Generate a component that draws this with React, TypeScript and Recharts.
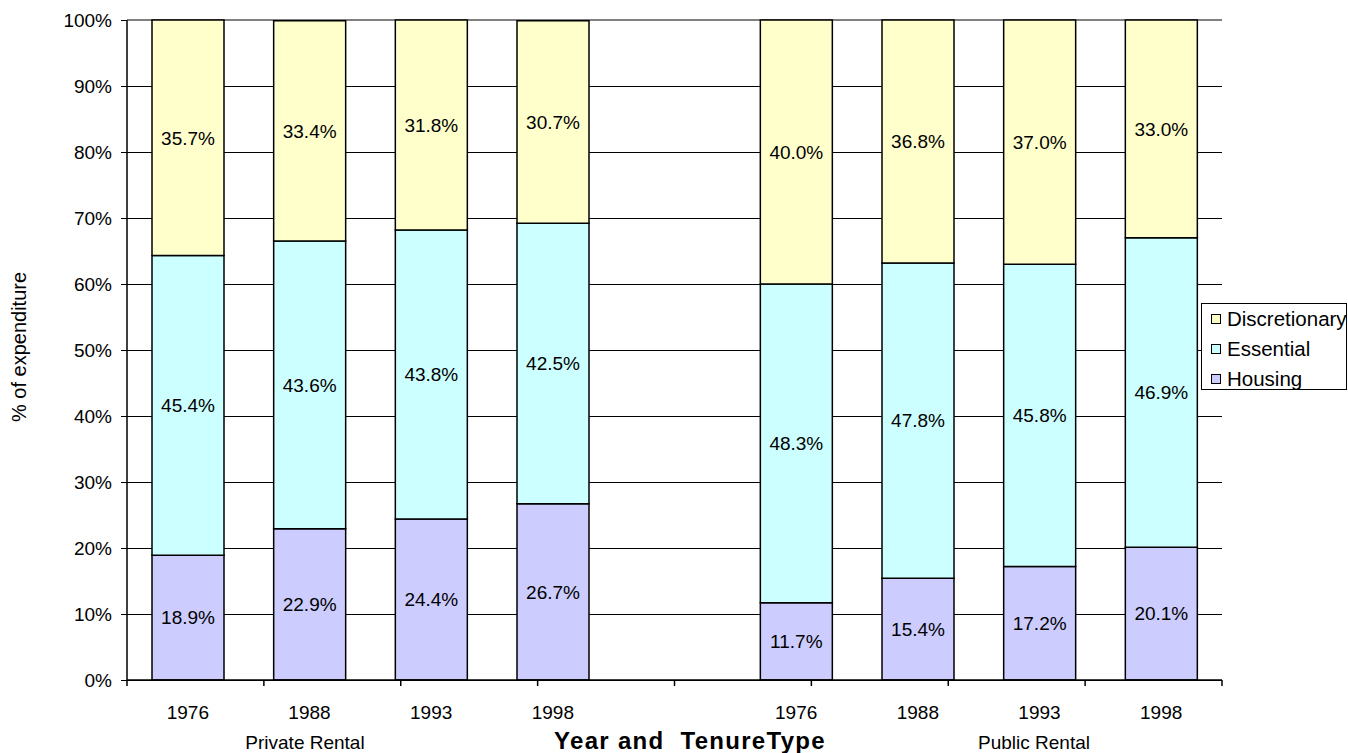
import React from 'react';
import {
  BarChart,
  Bar,
  XAxis,
  YAxis,
  CartesianGrid,
  Legend,
  LabelList,
} from 'recharts';

// categories: 4 private rental years, an empty spacer, 4 public rental years
const years = ['1976', '1988', '1993', '1998', '', '1976', '1988', '1993', '1998'];
const housing = [18.9, 22.9, 24.4, 26.7, null, 11.7, 15.4, 17.2, 20.1];
const essential = [45.4, 43.6, 43.8, 42.5, null, 48.3, 47.8, 45.8, 46.9];
const discretionary = [35.7, 33.4, 31.8, 30.7, null, 40.0, 36.8, 37.0, 33.0];
const yTicks = [0, 10, 20, 30, 40, 50, 60, 70, 80, 90, 100];
const boundaryTicks = [0, 1, 2, 3, 4, 5, 6, 7, 8, 9];

const SERIES = [
  { key: 'housing', name: 'Housing', color: '#CCCCFF' },
  { key: 'essential', name: 'Essential', color: '#CCFFFF' },
  { key: 'discretionary', name: 'Discretionary', color: '#FFFFCC' },
];

const FONT = '"Liberation Sans", Arial, sans-serif';

const data = years.map((year, i) => ({
  id: i,
  year,
  housing: housing[i],
  essential: essential[i],
  discretionary: discretionary[i],
}));

const fmt = (v: unknown) => (typeof v === 'number' ? `${v.toFixed(1)}%` : '');

// gridlines are black, except the top (100%) one which is grey
function gridLine(props: any) {
  const pts: number[] | undefined = props.horizontalPoints;
  const isTop = pts && pts.length ? props.y1 === Math.min(...pts) : props.index === yTicks.length - 1;
  return (
    <line
      key={props.key}
      x1={props.x1}
      y1={props.y1}
      x2={props.x2}
      y2={props.y2}
      stroke={isTop ? '#808080' : '#000'}
      strokeWidth={isTop ? 1.5 : 1}
      shapeRendering="crispEdges"
      fill="none"
    />
  );
}

function LegendBox() {
  const items = [...SERIES].reverse();
  return (
    <div
      style={{
        width: 144,
        height: 85,
        border: '1px solid #000',
        background: '#fff',
        fontFamily: FONT,
        fontSize: 20.5,
        color: '#000',
      }}
    >
      {items.map((it) => (
        <div key={it.key} style={{ height: 30, display: 'flex', alignItems: 'center', paddingLeft: 9 }}>
          <span
            style={{
              width: 8,
              height: 8,
              border: '1px solid #000',
              background: it.color,
              marginRight: 6,
              display: 'inline-block',
              flex: 'none',
            }}
          />
          <span style={{ whiteSpace: 'nowrap' }}>{it.name}</span>
        </div>
      ))}
    </div>
  );
}

function YTitle({ viewBox }: { viewBox?: { x: number; y: number; width: number; height: number } }) {
  if (!viewBox) return null;
  const cy = viewBox.y + viewBox.height / 2 - 3;
  return (
    <text
      x={19}
      y={cy}
      transform={`rotate(-90, 19, ${cy})`}
      textAnchor="middle"
      dominantBaseline="central"
      fontSize={20}
      fill="#000"
      fontFamily={FONT}
    >
      % of expenditure
    </text>
  );
}

const overlay: React.CSSProperties = {
  position: 'absolute',
  transform: 'translate(-50%, -50%)',
  whiteSpace: 'pre',
  fontFamily: FONT,
  color: '#000',
};

export default function App() {
  return (
    <div style={{ position: 'absolute', left: 0, top: 0, width: 1348, height: 753, background: '#fff' }}>
      <BarChart
        width={1348}
        height={753}
        data={data}
        margin={{ top: 20, right: 126, bottom: 32, left: 0 }}
        style={{ fontFamily: FONT }}
      >
        <CartesianGrid vertical={false} horizontal={gridLine} xAxisId="cat" />
        <XAxis
          xAxisId="bounds"
          type="number"
          domain={[0, 9]}
          ticks={boundaryTicks}
          interval={0}
          height={1}
          axisLine={{ stroke: '#000', strokeWidth: 1.5 }}
          tickLine={{ stroke: '#000', strokeWidth: 1.5 }}
          tickSize={6}
          tickFormatter={() => ''}
        />
        <XAxis
          xAxisId="cat"
          dataKey="id"
          type="category"
          height={40}
          axisLine={false}
          tickLine={false}
          tickSize={0}
          tickMargin={25}
          interval={0}
          tickFormatter={(v: number) => years[v]}
          tick={{ fill: '#000', fontSize: 19 }}
        />
        <YAxis
          width={127}
          domain={[0, 100]}
          ticks={yTicks}
          interval={0}
          tickFormatter={(v: number) => `${v}%`}
          axisLine={{ stroke: '#000', strokeWidth: 1.5 }}
          tickLine={{ stroke: '#000', shapeRendering: 'crispEdges' }}
          tickSize={6}
          tickMargin={9}
          tick={{ fill: '#000', fontSize: 19 }}
          label={<YTitle />}
        />
        <Legend
          layout="horizontal"
          verticalAlign="middle"
          align="center"
          wrapperStyle={{ left: 1201, top: 303, width: 146, height: 87 }}
          content={<LegendBox />}
        />
        {SERIES.map((s) => (
          <Bar
            key={s.key}
            xAxisId="cat"
            dataKey={s.key}
            name={s.name}
            stackId="a"
            fill={s.color}
            stroke="#000"
            strokeWidth={1.5}
            barSize={72}
            isAnimationActive={false}
          >
            <LabelList dataKey={s.key} position="center" formatter={fmt} fill="#000" fontSize={19} />
          </Bar>
        ))}
      </BarChart>
      <div style={{ ...overlay, left: 305, top: 743, fontSize: 19 }}>Private Rental</div>
      <div style={{ ...overlay, left: 1034, top: 743, fontSize: 19 }}>Public Rental</div>
      <div style={{ ...overlay, left: 690, top: 741, fontSize: 24, fontWeight: 'bold', letterSpacing: 1.3 }}>
        Year and  TenureType
      </div>
    </div>
  );
}
